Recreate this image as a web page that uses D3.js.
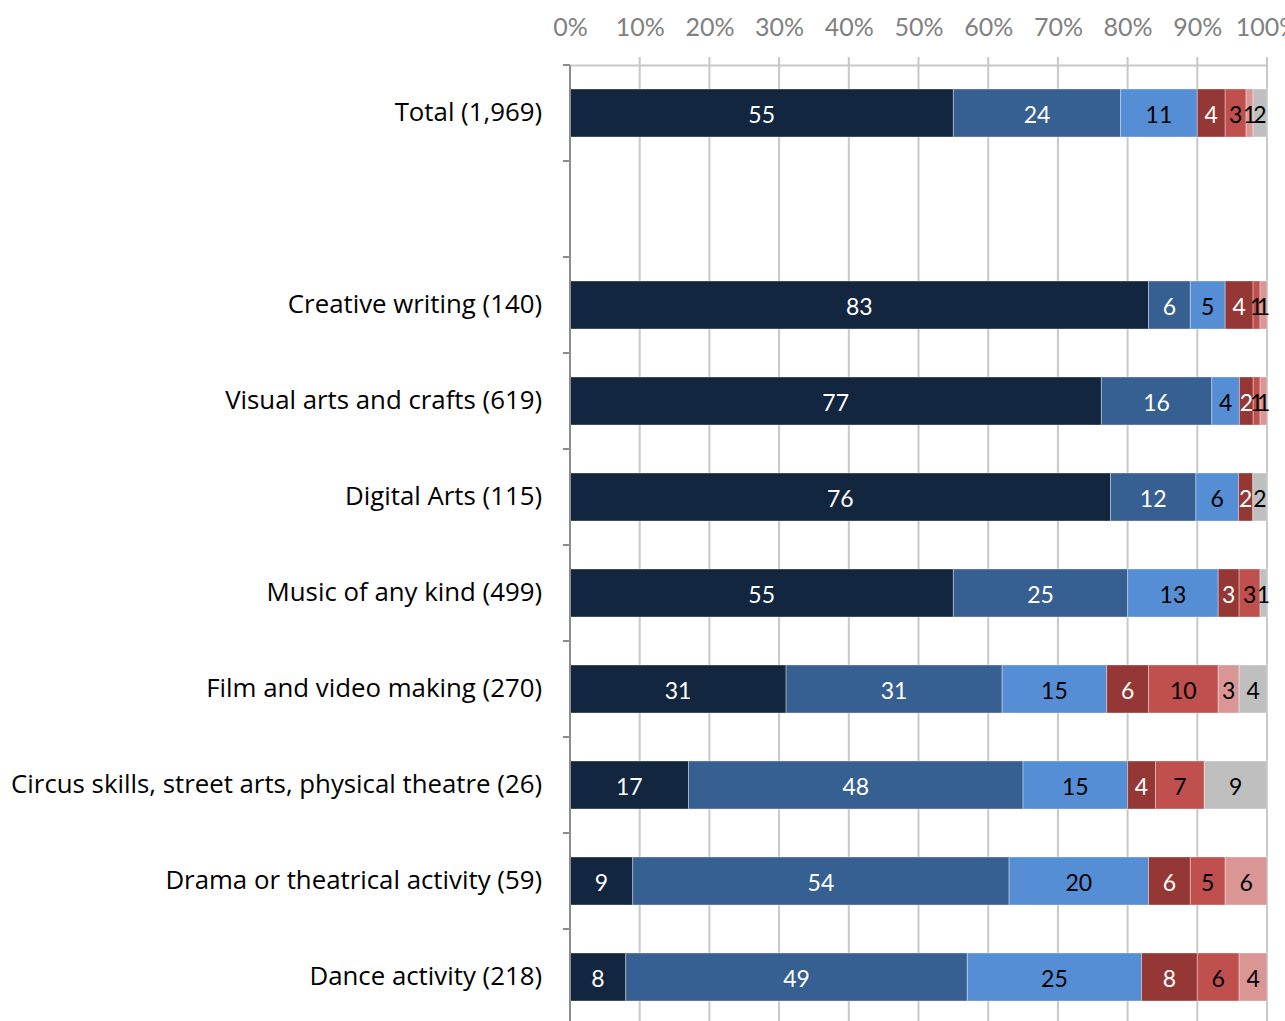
<!DOCTYPE html>
<html>
<head>
<meta charset="utf-8">
<script src="https://cdn.jsdelivr.net/npm/d3@7"></script>
<style>
  html, body { margin: 0; padding: 0; background: #fff; overflow: hidden; }
  svg text { font-family: Lato, "Open Sans", sans-serif; }
  svg text.cat { font-family: "Open Sans", Lato, sans-serif; }
</style>
</head>
<body>
<svg id="chart" width="1285" height="1021"></svg>
<script>
// Categories (blank row separates the total from the activity rows)
const categories = [
  "Total (1,969)",
  "",
  "Creative writing (140)",
  "Visual arts and crafts (619)",
  "Digital Arts (115)",
  "Music of any kind (499)",
  "Film and video making (270)",
  "Circus skills, street arts, physical theatre (26)",
  "Drama or theatrical activity (59)",
  "Dance activity (218)"
];

// Percentage shares per response level, one array per series (null = blank row)
const level1 = [55, null, 83, 77, 76, 55, 31, 17, 9, 8];
const level2 = [24, null, 6, 16, 12, 25, 31, 48, 54, 49];
const level3 = [11, null, 5, 4, 6, 13, 15, 15, 20, 25];
const level4 = [4, null, 4, 2, 2, 3, 6, 4, 6, 8];
const level5 = [3, null, 1, 1, 0, 3, 10, 7, 5, 6];
const level6 = [1, null, 1, 1, 0, 0, 3, 0, 6, 4];
const level7 = [2, null, 0, 0, 2, 1, 4, 9, 0, 0];

const tickValues = [0, 0.1, 0.2, 0.3, 0.4, 0.5, 0.6, 0.7, 0.8, 0.9, 1.0];

const seriesValues = [level1, level2, level3, level4, level5, level6, level7];
const seriesKeys = ["level1", "level2", "level3", "level4", "level5", "level6", "level7"];
const seriesColors = ["#13263f", "#376092", "#558ed5", "#953735", "#c0504d", "#d99694", "#bfbfbf"];
const labelColors = ["#ffffff", "#ffffff", "#000000", "#ffffff", "#000000", "#000000", "#000000"];

// Rows for the stack, each normalised to 100%
const rows = categories.map((cat, i) => {
  const row = { category: cat };
  const vals = seriesValues.map(s => s[i]);
  const total = vals.reduce((a, v) => a + (v || 0), 0);
  seriesKeys.forEach((k, j) => {
    row[k] = total > 0 ? (vals[j] || 0) / total : 0;
    row[k + "_label"] = vals[j];
  });
  return row;
});

const svg = d3.select("#chart");
const margin = { top: 65, left: 570 };
const plotW = 697;
const bandStep = 96;
const plotH = bandStep * categories.length;

const x = d3.scaleLinear().domain([0, 1]).range([margin.left, margin.left + plotW]);
const y = d3.scaleBand().domain(categories.map((c, i) => i)).range([margin.top, margin.top + plotH]).paddingInner(0.5).paddingOuter(0.25);

const gridColor = "#c8c8c8";

// Vertical gridlines with short ticks above the top edge
svg.append("g")
  .selectAll("line")
  .data(tickValues.slice(1))
  .join("line")
  .attr("x1", d => x(d)).attr("x2", d => x(d))
  .attr("y1", margin.top - 8).attr("y2", margin.top + plotH)
  .attr("stroke", gridColor).attr("stroke-width", 2);

// Top axis with percentage labels
const xAxis = d3.axisTop(x).tickValues(tickValues).tickFormat(d3.format(".0%")).tickSize(0).tickPadding(29);
const gx = svg.append("g").attr("transform", `translate(0,${margin.top})`).call(xAxis);
gx.select(".domain").attr("stroke", gridColor).attr("stroke-width", 2);
gx.selectAll("text").attr("fill", "#808080").style("font-size", "25px");

// Stacked bars
const stack = d3.stack().keys(seriesKeys);
const stacked = stack(rows);

const layers = svg.append("g")
  .selectAll("g")
  .data(stacked)
  .join("g")
  .attr("fill", (d, i) => seriesColors[i]);

layers.selectAll("rect")
  .data(d => d.map((p, i) => ({ p, i })).filter(o => categories[o.i] !== ""))
  .join("rect")
  .attr("x", o => x(o.p[0]))
  .attr("y", o => y(o.i))
  .attr("width", o => Math.max(0, x(o.p[1]) - x(o.p[0])))
  .attr("height", y.bandwidth())
  .attr("stroke", "rgba(255,255,255,0.35)")
  .attr("stroke-width", 1);

// Segment value labels
stacked.forEach((layer, j) => {
  svg.append("g")
    .selectAll("text")
    .data(layer.map((p, i) => ({ p, i })).filter(o => o.p.data[seriesKeys[j] + "_label"]))
    .join("text")
    .attr("x", o => (x(o.p[0]) + x(o.p[1])) / 2)
    .attr("y", o => y(o.i) + y.bandwidth() / 2 + 2)
    .attr("dy", "0.36em")
    .attr("text-anchor", "middle")
    .attr("fill", labelColors[j])
    .style("font-size", "23px")
    .text(o => o.p.data[seriesKeys[j] + "_label"]);
});

// Category axis on the left
const yAxisLine = svg.append("g");
yAxisLine.append("line")
  .attr("x1", margin.left).attr("x2", margin.left)
  .attr("y1", margin.top).attr("y2", margin.top + plotH)
  .attr("stroke", "#8c8c8c").attr("stroke-width", 2);
yAxisLine.selectAll("line.tick")
  .data(d3.range(categories.length + 1))
  .join("line")
  .attr("class", "tick")
  .attr("x1", margin.left - 7).attr("x2", margin.left)
  .attr("y1", i => margin.top + i * bandStep).attr("y2", i => margin.top + i * bandStep)
  .attr("stroke", "#8c8c8c").attr("stroke-width", 2);

svg.append("g")
  .selectAll("text")
  .data(categories)
  .join("text")
  .attr("class", "cat")
  .attr("x", 542)
  .attr("y", (d, i) => y(i) + y.bandwidth() / 2 - 1)
  .attr("dy", "0.36em")
  .attr("text-anchor", "end")
  .attr("fill", "#000")
  .style("font-size", "25.8px")
  .text(d => d);
</script>
</body>
</html>
